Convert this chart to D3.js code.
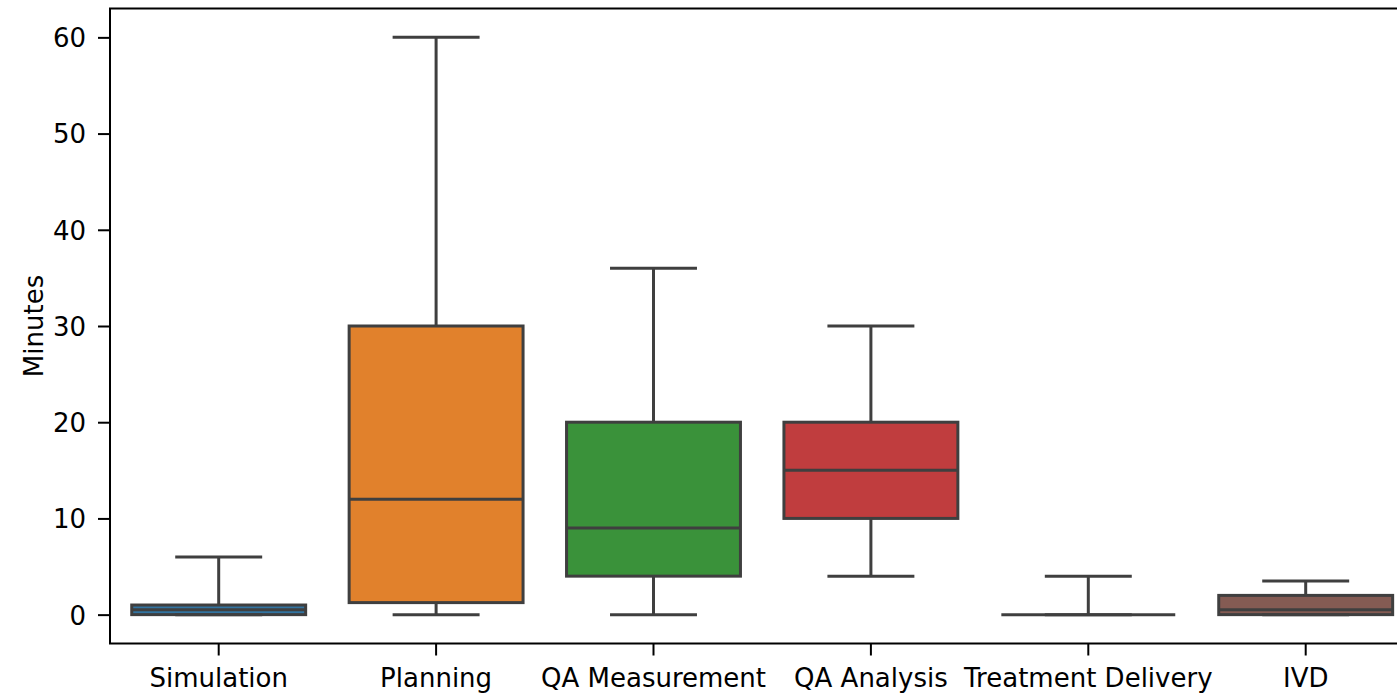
<!DOCTYPE html>
<html>
<head>
<meta charset="utf-8">
<script src="https://cdn.jsdelivr.net/npm/d3@7"></script>
<style>
  html, body { margin: 0; padding: 0; background: #fff; }
  svg { display: block; font-family: "DejaVu Sans", sans-serif; }
</style>
</head>
<body>
<svg id="chart" width="1397" height="695"></svg>
<script>
// Task duration per workflow step (minutes)
const categories = ["Simulation", "Planning", "QA Measurement", "QA Analysis", "Treatment Delivery", "IVD"];
const whiskerLow  = [0, 0, 0, 4, 0, 0];
const q1          = [0, 1.25, 4, 10, 0, 0];
const median      = [0.5, 12, 9, 15, 0, 0.5];
const q3          = [1, 30, 20, 20, 0, 2];
const whiskerHigh = [6, 60, 36, 30, 4, 3.5];
const boxColors   = ["#3274a1", "#e1812c", "#3a923a", "#c03d3e", "#9372b2", "#845b53"];
const yTicks      = [0, 10, 20, 30, 40, 50, 60];

const svg = d3.select("#chart");
const plotLeft = 110, plotTop = 8.5, plotBottom = 643.5;
const step = 217.4;
const plotRight = plotLeft + step * categories.length;

const x = d3.scaleBand().domain(categories).range([plotLeft, plotRight]).paddingInner(0).paddingOuter(0);
const y = d3.scaleLinear().domain([-3, 63]).range([plotBottom, plotTop]);

const boxW = x.bandwidth() * 0.8;
const capW = boxW / 2;
const lineColor = "#3f3f3f";
const lw = 3;

const rows = categories.map((c, i) => ({
  cat: c, lo: whiskerLow[i], q1: q1[i], med: median[i], q3: q3[i], hi: whiskerHigh[i], color: boxColors[i]
}));

const g = svg.append("g");
const cx = d => x(d.cat) + x.bandwidth() / 2;

// boxes
g.selectAll("rect.box").data(rows).join("rect")
  .attr("class", "box")
  .attr("x", d => cx(d) - boxW / 2)
  .attr("width", boxW)
  .attr("y", d => y(d.q3))
  .attr("height", d => Math.max(0, y(d.q1) - y(d.q3)))
  .attr("fill", d => d.color)
  .attr("stroke", lineColor)
  .attr("stroke-width", lw);

// whiskers
g.selectAll("line.wlo").data(rows).join("line")
  .attr("class", "wlo")
  .attr("x1", cx).attr("x2", cx)
  .attr("y1", d => y(d.q1)).attr("y2", d => y(d.lo))
  .attr("stroke", lineColor).attr("stroke-width", lw);
g.selectAll("line.whi").data(rows).join("line")
  .attr("class", "whi")
  .attr("x1", cx).attr("x2", cx)
  .attr("y1", d => y(d.q3)).attr("y2", d => y(d.hi))
  .attr("stroke", lineColor).attr("stroke-width", lw);

// caps
g.selectAll("line.clo").data(rows).join("line")
  .attr("class", "clo")
  .attr("x1", d => cx(d) - capW / 2).attr("x2", d => cx(d) + capW / 2)
  .attr("y1", d => y(d.lo)).attr("y2", d => y(d.lo))
  .attr("stroke", lineColor).attr("stroke-width", lw);
g.selectAll("line.chi").data(rows).join("line")
  .attr("class", "chi")
  .attr("x1", d => cx(d) - capW / 2).attr("x2", d => cx(d) + capW / 2)
  .attr("y1", d => y(d.hi)).attr("y2", d => y(d.hi))
  .attr("stroke", lineColor).attr("stroke-width", lw);

// medians
g.selectAll("line.med").data(rows).join("line")
  .attr("class", "med")
  .attr("x1", d => cx(d) - boxW / 2).attr("x2", d => cx(d) + boxW / 2)
  .attr("y1", d => y(d.med)).attr("y2", d => y(d.med))
  .attr("stroke", lineColor).attr("stroke-width", lw);

// frame
svg.append("rect")
  .attr("x", plotLeft).attr("y", plotTop)
  .attr("width", plotRight - plotLeft).attr("height", plotBottom - plotTop)
  .attr("fill", "none").attr("stroke", "#000").attr("stroke-width", 2);

// axes
const yAxis = d3.axisLeft(y).tickValues(yTicks).tickSize(12).tickPadding(12);
const ya = svg.append("g").attr("transform", `translate(${plotLeft},0)`).call(yAxis);
const xAxis = d3.axisBottom(x).tickSize(12).tickPadding(11);
const xa = svg.append("g").attr("transform", `translate(0,${plotBottom})`).call(xAxis);
[ya, xa].forEach(a => {
  a.select(".domain").remove();
  a.selectAll(".tick line").attr("stroke", "#000").attr("stroke-width", 2);
  a.selectAll(".tick text").attr("fill", "#000")
    .style("font-family", "'DejaVu Sans', sans-serif").style("font-size", "26px");
});
ya.selectAll(".tick text").attr("dy", "0.36em");
xa.selectAll(".tick text").attr("dy", "0.8em");

svg.append("text")
  .attr("transform", `translate(43,${(plotTop + plotBottom) / 2}) rotate(-90)`)
  .attr("text-anchor", "middle")
  .style("font-size", "26px")
  .attr("fill", "#000")
  .text("Minutes");
</script>
</body>
</html>
